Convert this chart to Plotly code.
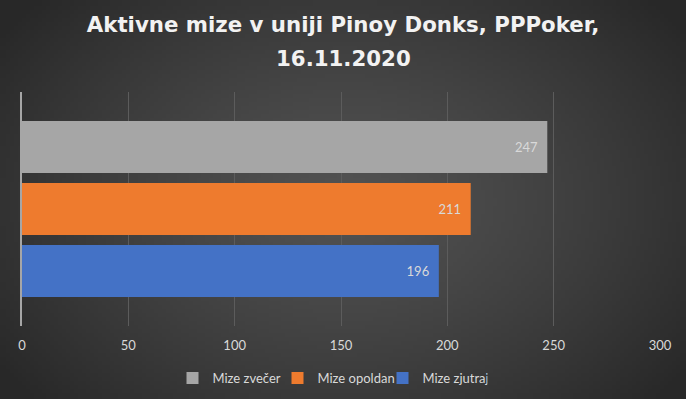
import base64, struct, zlib, math
import plotly.graph_objects as go

# ---- data ----
series = ["Mize zjutraj", "Mize opoldan", "Mize zvečer"]
values = [196, 211, 247]
colors = ["#4472C6", "#EE7B2E", "#A6A6A6"]
category = [""]
x_ticks = [0, 50, 100, 150, 200, 250, 300]
title_line1 = "Aktivne mize v uniji Pinoy Donks, PPPoker,"
title_line2 = "16.11.2020"

W, H = 686, 399
ML, MR, MT, MB = 22, 26, 92, 73

# ---- radial gradient background as PNG ----
def make_png(w, h):
    rows = []
    cx, cy = w * 0.5, h * 0.5
    for j in range(h):
        row = bytearray([0])
        for i in range(w):
            dx = (i - cx) / (w * 0.62)
            dy = (j - cy) / (h * 0.75)
            d = min(1.0, math.sqrt(dx * dx + dy * dy))
            v = int(82 - (82 - 40) * d ** 1.3)
            row += bytes([v, v, v])
        rows.append(bytes(row))
    raw = b"".join(rows)
    def chunk(t, d):
        c = struct.pack(">I", len(d)) + t + d
        return c + struct.pack(">I", zlib.crc32(t + d) & 0xffffffff)
    png = b"\x89PNG\r\n\x1a\n"
    png += chunk(b"IHDR", struct.pack(">IIBBBBB", w, h, 8, 2, 0, 0, 0))
    png += chunk(b"IDAT", zlib.compress(raw, 9))
    png += chunk(b"IEND", b"")
    return "data:image/png;base64," + base64.b64encode(png).decode()

bg = make_png(172, 100)

fig = go.Figure()
for name, val, col in zip(series, values, colors):
    fig.add_trace(go.Bar(
        name=name, y=category, x=[val], orientation="h",
        marker=dict(color=col, line=dict(width=0)),
        texttemplate="%{x}\u00a0\u00a0", textposition="inside",
        insidetextanchor="end",
        textfont=dict(color="#d9d9d9", size=13, family="Lato"),
        hoverinfo="x+name",
    ))

pw = W - ML - MR
ph = H - MT - MB
title_font = dict(family="DejaVu Sans", size=21.3, color="#f2f2f2", weight="bold")
fig.update_layout(
    width=W, height=H,
    margin=dict(l=ML, r=MR, t=MT, b=MB, autoexpand=False),
    paper_bgcolor="#3a3a3a", plot_bgcolor="rgba(0,0,0,0)",
    barmode="group", bargap=0.205, bargroupgap=0.161,
    title=dict(text=title_line1, x=0.5, xanchor="center", xref="container",
               y=1 - 25 / H, yanchor="middle", yref="container",
               font=title_font),
    font=dict(family="Lato", color="#d9d9d9"),
    xaxis=dict(range=[0, 300], tickvals=x_ticks, showgrid=True,
               gridcolor="#5c5c5c", gridwidth=1, zeroline=False,
               showline=False, ticks="", ticklabelstandoff=10,
               tickfont=dict(size=13, color="#d9d9d9")),
    yaxis=dict(range=[-0.5, 0.5], showticklabels=False, showgrid=False,
               showline=True, linecolor="#a6a6a6", linewidth=2, zeroline=False),
    showlegend=True,
    legend=dict(orientation="h", x=(330 - ML) / pw, xanchor="center",
                y=(ph - (378 - MT)) / ph, yanchor="middle",
                traceorder="reversed", font=dict(size=13, color="#d9d9d9"),
                itemwidth=30, entrywidth=60, bgcolor="rgba(0,0,0,0)"),
    annotations=[dict(text=title_line2, xref="paper", yref="paper",
                      x=(343 - ML) / pw, y=(ph + (MT - 58)) / ph,
                      xanchor="center", yanchor="middle", showarrow=False,
                      font=title_font)],
    images=[dict(source=bg, xref="paper", yref="paper",
                 x=-ML / pw, y=1 + MT / ph, sizex=W / pw, sizey=H / ph,
                 xanchor="left", yanchor="top", sizing="stretch", layer="below")],
)

fig.write_html("out.html", config={"displayModeBar": False},
               post_script="document.body.style.margin='0';")
